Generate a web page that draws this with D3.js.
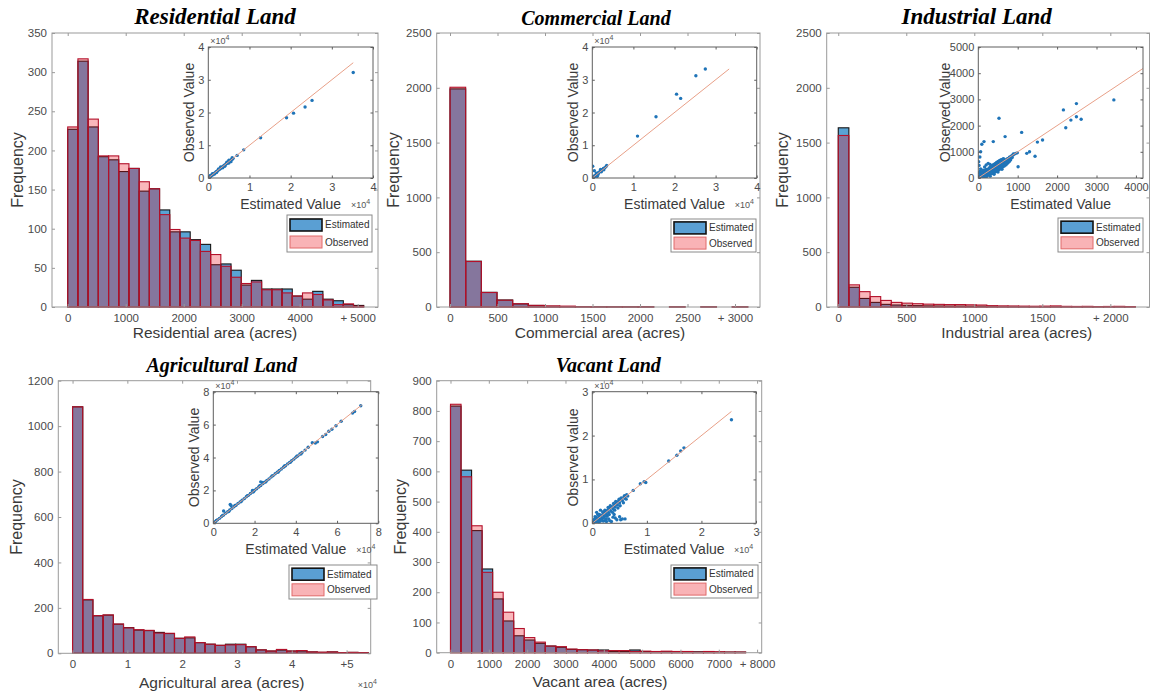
<!DOCTYPE html>
<html>
<head>
<meta charset="utf-8">
<script src="https://cdn.jsdelivr.net/npm/d3@7"></script>
<style>
body{margin:0;background:#fff}
svg text{font-family:"Liberation Sans",Arial,sans-serif}
.title{font-family:"Liberation Serif","Times New Roman",serif;font-weight:bold;font-style:italic;fill:#000}
</style>
</head>
<body>
<svg id="fig" width="1151" height="698"></svg>
<script>
// ---------- histogram data (frequency per bin) ----------
const resBin = 176;   // acres per bin
const resEst = [227,314,230,192,188,173,177,148,151,124,96,96,86,80,54,55,47,28,34,23,23,23,14,10,20,10,8,3,2];
const resObs = [230,317,240,193,193,183,177,160,151,118,99,88,85,71,67,52,38,30,32,22,22,18,14,18,16,9,3,4,1];

const comBin = 165;
const comEst = [1990,418,134,64,28,14,6,3,2,1,1,1,1,0,1,0,1,0,1];
const comObs = [2005,415,132,62,30,15,10,8,2,1,1,1,1,0,1,0,1,0,1];

const indBin = 78;
const indEst = [1635,180,78,42,24,18,15,12,10,9,8,8,7,7,6,5,5,4,4,3,4,3,3,3,2,3,2,2];
const indObs = [1565,202,140,95,60,42,35,30,26,24,22,22,20,18,12,10,9,8,7,8,10,6,5,6,4,5,6,4];

const agrBin = 1860;
const agrEst = [1085,235,165,168,128,113,102,100,92,87,66,68,47,40,35,40,40,29,15,10,14,10,10,6,4,6,3,4,3];
const agrObs = [1085,237,166,169,129,112,104,101,89,88,66,72,47,40,35,37,38,29,15,10,17,10,12,6,5,6,3,4,3];

const vacBin = 275;
const vacEst = [816,604,404,277,178,105,56,42,31,22,18,11,10,9,9,4,4,9,4,3,3,2,2,3,2,2,2,2];
const vacObs = [822,582,420,266,200,134,80,50,35,22,20,12,10,9,6,7,7,4,5,4,5,4,4,2,4,3,2,2];

// ---------- tick labels ----------
const resXTicks = [0,1000,2000,3000,4000,5000];
const resXLabels = ["0","1000","2000","3000","4000","+ 5000"];
const resYTicks = [0,50,100,150,200,250,300,350];
const comXTicks = [0,500,1000,1500,2000,2500,3000];
const comXLabels = ["0","500","1000","1500","2000","2500","+ 3000"];
const comYTicks = [0,500,1000,1500,2000,2500];
const indXTicks = [0,500,1000,1500,2000];
const indXLabels = ["0","500","1000","1500","+ 2000"];
const indYTicks = [0,500,1000,1500,2000,2500];
const agrXTicks = [0,10000,20000,30000,40000,50000];
const agrXLabels = ["0","1","2","3","4","+5"];
const agrYTicks = [0,200,400,600,800,1000,1200];
const vacXTicks = [0,1000,2000,3000,4000,5000,6000,7000,8000];
const vacXLabels = ["0","1000","2000","3000","4000","5000","6000","7000","+ 8000"];
const vacYTicks = [0,100,200,300,400,500,600,700,800,900];

// ---------- inset scatter: [estimated, observed] ----------
const resPts = [[0.01,0.01],[0.03,0.03],[0.05,0.04],[0.07,0.07],[0.09,0.09],[0.11,0.1],[0.13,0.13],[0.15,0.15],
  [0.17,0.16],[0.19,0.19],[0.21,0.21],[0.23,0.22],[0.25,0.25],[0.27,0.27],[0.29,0.28],[0.31,0.31],[0.33,0.33],
  [0.35,0.34],[0.37,0.37],[0.39,0.39],[0.41,0.4],[0.43,0.43],[0.45,0.45],[0.47,0.46],[0.49,0.49],[0.51,0.51],
  [0.53,0.52],[0.55,0.55],[0.57,0.57],[0.59,0.58],[0.6,0.6],[0.1,0.13],[0.2,0.17],[0.3,0.34],[0.4,0.36],
  [0.5,0.54],[0.55,0.5],[0.05,0.08],[0.15,0.12],[0.25,0.28],[0.35,0.31],[0.45,0.48],[0.5,0.46],[0.58,0.62],
  [0.7,0.69],[0.86,0.86],[1.27,1.23],[1.9,1.84],[2.07,1.98],[2.35,2.17],[2.52,2.37],[3.52,3.22]];
const comPts = [[0.01,0.01],[0.03,0.03],[0.05,0.06],[0.07,0.07],[0.09,0.1],[0.11,0.12],[0.13,0.14],[0.15,0.16],
  [0.17,0.18],[0.19,0.2],[0.21,0.22],[0.23,0.24],[0.25,0.26],[0.27,0.29],[0.3,0.31],[0.33,0.34],[0.35,0.38],
  [0.06,0.03],[0.14,0.11],[0.22,0.19],[0.28,0.25],[0.1,0.15],[0.2,0.26],
  [0.01,0.36],[0.05,0.22],[0.12,0.05],[1.1,1.28],[1.55,1.87],[2.05,2.56],[2.15,2.43],[2.52,3.12],[2.75,3.33]];
const indPts = [[5,5],[15,25],[25,10],[35,40],[45,20],[55,60],[65,35],[75,80],[85,50],[95,100],[105,70],[115,120],
  [125,90],[135,140],[145,110],[155,165],[165,125],[175,185],[185,140],[195,205],[210,160],[225,230],[240,180],
  [255,260],[270,205],[285,290],[300,230],[315,320],[330,260],[345,350],[360,290],[375,380],[390,320],[405,410],
  [420,350],[435,440],[450,380],[465,470],[480,410],[495,500],[510,440],[530,520],[550,470],[570,560],[590,510],
  [610,600],[630,560],[650,640],[670,610],[690,690],[710,660],[730,730],[760,750],[790,790],[820,810],[850,850],
  [880,880],[910,910],[950,940],[990,960],
  [20,60],[40,90],[60,120],[30,200],[50,260],[80,160],[100,200],[120,180],[140,220],[160,260],[180,300],
  [200,330],[220,280],[240,320],[260,350],[280,380],[300,400],[320,430],[340,460],[360,480],[380,500],[400,520],
  [420,540],[440,560],[460,580],[480,600],[500,620],[520,640],[540,660],[560,680],[580,690],[600,700],[620,720],
  [640,740],[60,15],[120,40],[160,60],[220,90],[260,120],[320,150],[360,180],[420,220],[460,260],[500,300],
  [540,330],[580,380],[620,420],[660,460],[700,500],[740,560],[780,620],[820,700],[860,780],[140,70],[180,90],
  [240,140],[280,160],[340,230],[380,250],[440,280],[480,330],[520,360],[560,420],[600,460],[640,520],[680,580],
  [720,620],[760,680],[800,740],[840,800],[100,40],[200,110],[300,180],[400,260],[500,350],[600,420],[700,520],
  [800,660],
  [40,150],[80,230],[120,300],[60,350],[160,420],[200,500],[250,560],[300,520],[100,10],[200,30],[300,70],
  [400,140],[500,230],[600,330],[450,300],[350,190],[550,380],[650,480],[700,560],[20,480],[10,620],
  [60,1000],[145,1390],[90,1290],[40,800],[380,1390],[525,2280],[680,1580],[890,920],[1100,1740],[1010,430],
  [1230,940],[1300,1000],[1440,830],[1500,1370],[1630,1450],[2160,2600],[2220,1920],[2350,2210],[2490,2840],
  [2490,2335],[2610,2240],[3440,2980]];
const agrPts = [[0.02,0.02],[0.1,0.1],[0.2,0.21],[0.3,0.3],[0.4,0.41],[0.5,0.5],[0.6,0.61],[0.7,0.7],[0.8,0.81],
  [0.9,0.9],[1.0,1.01],[1.1,1.1],[1.2,1.21],[1.3,1.3],[1.4,1.41],[1.5,1.5],[1.6,1.61],[1.7,1.7],[1.8,1.81],
  [1.9,1.9],[2.0,2.01],[2.1,2.1],[2.2,2.21],[2.3,2.3],[2.4,2.41],[2.5,2.5],[2.6,2.61],[2.7,2.7],[2.8,2.81],
  [2.9,2.9],[3.0,3.01],[3.1,3.1],[3.2,3.21],[3.3,3.3],[3.4,3.41],[3.5,3.5],[3.6,3.61],[3.7,3.7],[3.8,3.81],
  [3.9,3.9],[4.0,4.01],[4.1,4.1],[4.2,4.21],[4.3,4.3],
  [0.15,0.18],[0.45,0.48],[0.75,0.72],[1.05,1.08],[1.35,1.32],[1.65,1.68],[1.95,1.92],[2.25,2.28],[2.55,2.52],
  [2.85,2.88],[3.15,3.12],[3.45,3.48],[3.75,3.72],[4.05,4.08],[4.25,4.22],
  [0.5,0.75],[0.82,1.15],[0.86,1.08],[2.3,2.52],[2.4,2.48],[1.9,2.0],
  [4.45,4.45],[4.6,4.62],[4.8,4.9],[4.95,4.88],[5.05,4.95],[5.3,5.28],[5.45,5.4],[5.6,5.6],[5.75,5.72],
  [5.95,5.93],[6.2,6.2],[6.75,6.7],[6.85,6.8],[7.15,7.15]];
const vacPts = [[0.02,0.02],[0.04,0.06],[0.06,0.03],[0.08,0.1],[0.1,0.06],[0.12,0.14],[0.14,0.09],[0.16,0.18],
  [0.18,0.12],[0.2,0.22],[0.22,0.16],[0.24,0.26],[0.26,0.2],[0.28,0.3],[0.3,0.24],[0.32,0.34],[0.34,0.28],
  [0.36,0.38],[0.38,0.33],[0.4,0.42],[0.42,0.37],[0.44,0.46],[0.46,0.42],[0.48,0.5],[0.5,0.47],[0.52,0.55],
  [0.55,0.52],[0.58,0.6],[0.6,0.57],[0.63,0.65],
  [0.03,0.08],[0.07,0.14],[0.11,0.04],[0.13,0.2],[0.17,0.1],[0.19,0.26],[0.21,0.13],[0.23,0.3],[0.27,0.16],
  [0.29,0.36],[0.31,0.2],[0.33,0.4],[0.37,0.25],[0.39,0.45],[0.41,0.3],[0.43,0.5],[0.47,0.35],[0.49,0.55],
  [0.51,0.4],[0.53,0.58],[0.57,0.47],[0.59,0.63],[0.62,0.55],[0.65,0.62],[0.12,0.02],[0.22,0.06],[0.32,0.06],
  [0.42,0.12],[0.52,0.08],[0.6,0.1],[0.26,0.04],[0.38,0.14],
  [0.05,0.15],[0.1,0.2],[0.08,0.25],[0.15,0.3],[0.2,0.05],[0.3,0.1],[0.35,0.04],[0.45,0.08],[0.5,0.15],
  [0.55,0.1],[0.25,0.1],[0.4,0.2],[0.15,0.05],[0.05,0.1],
  [0.75,0.75],[0.88,0.9],[0.95,0.95],[0.98,0.93],[1.4,1.42],[1.55,1.55],[1.62,1.65],[1.68,1.72],[2.55,2.36]];

const unitTicks4 = [0,1,2,3,4];
const unitTicks3 = [0,1,2,3];
const agrInsetTicks = [0,2,4,6,8];
const indInsetX = [0,1000,2000,3000,4000];
const indInsetY = [0,1000,2000,3000,4000,5000];

// ---------- layout (pixels) ----------
const layout = [
  {box:[52,33,378,307], xdom:[-271,5350], title:[215,24,23], ylab:17, xlab:[215,338], inset:[208.3,47,373,178], legend:[287,215,85,37]},
  {box:[436.7,33,760,307], xdom:[-140,3263], title:[596,25,20], ylab:393, xlab:[600,338], inset:[592.3,47,756.7,178], legend:[671,219,85,33]},
  {box:[826.7,33,1149.5,307], xdom:[-85,2288], title:[976.7,24,23], ylab:782, xlab:[1016.7,338], inset:[978.3,47,1143,178], legend:[1058,218,85,34]},
  {box:[58.3,380.7,370.7,653.3], xdom:[-2600,54400], title:[221.7,372,20], ylab:16, xlab:[221.7,688], inset:[213.3,391.7,378.3,523.3], legend:[289,565,88,34]},
  {box:[436.7,380.7,761.7,652.7], xdom:[-360,8120], title:[608.3,372,20], ylab:400, xlab:[600,687], inset:[592.3,391.7,756,523.3], legend:[671,565,87,33]}
];

const panels = [
  {title:"Residential Land", xName:"Residential area (acres)", bin:resBin, est:resEst, obs:resObs,
   xt:resXTicks, xl:resXLabels, yt:resYTicks, ymax:350,
   ins:{pts:resPts, dom:[0,4], domY:[0,4], xt:unitTicks4, yt:unitTicks4, exp:true, lineMax:3.52, yName:"Observed Value"}},
  {title:"Commercial Land", xName:"Commercial area (acres)", bin:comBin, est:comEst, obs:comObs,
   xt:comXTicks, xl:comXLabels, yt:comYTicks, ymax:2500,
   ins:{pts:comPts, dom:[0,4], domY:[0,4], xt:unitTicks4, yt:unitTicks4, exp:true, lineMax:3.33, yName:"Observed Value"}},
  {title:"Industrial Land", xName:"Industrial area (acres)", bin:indBin, est:indEst, obs:indObs,
   xt:indXTicks, xl:indXLabels, yt:indYTicks, ymax:2500,
   ins:{pts:indPts, dom:[0,4180], domY:[0,5000], xt:indInsetX, yt:indInsetY, exp:false, lineMax:4300, yName:"Observed Value"}},
  {title:"Agricultural Land", xName:"Agricultural area (acres)", bin:agrBin, est:agrEst, obs:agrObs,
   xt:agrXTicks, xl:agrXLabels, yt:agrYTicks, ymax:1200, xExp:true,
   ins:{pts:agrPts, dom:[0,8], domY:[0,8], xt:agrInsetTicks, yt:agrInsetTicks, exp:true, lineMax:7.2, yName:"Observed Value"}},
  {title:"Vacant Land", xName:"Vacant area (acres)", bin:vacBin, est:vacEst, obs:vacObs,
   xt:vacXTicks, xl:vacXLabels, yt:vacYTicks, ymax:900,
   ins:{pts:vacPts, dom:[0,3], domY:[0,3], xt:unitTicks3, yt:unitTicks3, exp:true, lineMax:2.55, yName:"Observed value"}}
];

const estFill = "rgba(0,114,189,0.65)", estEdge = "#141414";
const obsFill = "rgba(235,15,30,0.3)", obsEdge = "#b3102a";
const svg = d3.select("#fig");

// x10^4 style label
var expLabel = function(g, x, y){
  var t = g.append("text").attr("x",x).attr("y",y).attr("font-size",9).attr("fill","#555");
  t.append("tspan").text("\u00d710");
  t.append("tspan").attr("dy",-4).attr("font-size",7).text("4");
};

// MATLAB-like box with inward ticks on all four sides
var frame = function(g, x, y, xt, xfmt, yt, yfmt, o){
  var xr = x.range(), yr = y.range();
  var axes = [
    g.append("g").attr("transform","translate(0,"+yr[0]+")")
      .call(d3.axisBottom(x).tickValues(xt).tickFormat(xfmt).tickSizeInner(-o.tick).tickSizeOuter(0).tickPadding(o.padX)),
    g.append("g").attr("transform","translate(0,"+yr[1]+")")
      .call(d3.axisTop(x).tickValues(xt).tickFormat(function(){return "";}).tickSizeInner(-o.tick).tickSizeOuter(0)),
    g.append("g").attr("transform","translate("+xr[0]+",0)")
      .call(d3.axisLeft(y).tickValues(yt).tickFormat(yfmt).tickSizeInner(-o.tick).tickSizeOuter(0).tickPadding(o.padY)),
    g.append("g").attr("transform","translate("+xr[1]+",0)")
      .call(d3.axisRight(y).tickValues(yt).tickFormat(function(){return "";}).tickSizeInner(-o.tick).tickSizeOuter(0))
  ];
  axes.forEach(function(a){
    a.select(".domain").remove();
    a.attr("font-family",null).attr("font-size",o.font);
    a.selectAll(".tick line").attr("stroke",o.line);
    a.selectAll(".tick text").attr("fill","#4a4a4a");
  });
  g.append("rect").attr("x",xr[0]).attr("y",yr[1])
    .attr("width",xr[1]-xr[0]).attr("height",yr[0]-yr[1])
    .attr("fill","none").attr("stroke",o.line).attr("stroke-width",o.width);
};

var drawHist = function(g, x, y, data, bin, fill, edge){
  g.selectAll(null).data(data).join("rect")
    .attr("x",function(d,i){return x(i*bin);})
    .attr("width",function(d,i){return x((i+1)*bin)-x(i*bin);})
    .attr("y",function(d){return y(d);})
    .attr("height",function(d){return y(0)-y(d);})
    .attr("fill",fill).attr("stroke",edge).attr("stroke-width",1.1);
};

panels.forEach(function(p, k){
  var L = layout[k];
  var g = svg.append("g");
  var b = L.box;
  var x = d3.scaleLinear().domain(L.xdom).range([b[0],b[2]]);
  var y = d3.scaleLinear().domain([0,p.ymax]).range([b[3],b[1]]);

  g.append("rect").attr("x",b[0]).attr("y",b[1]).attr("width",b[2]-b[0]).attr("height",b[3]-b[1]).attr("fill","#fff");
  drawHist(g.append("g"), x, y, p.est, p.bin, estFill, estEdge);
  drawHist(g.append("g"), x, y, p.obs, p.bin, obsFill, obsEdge);
  frame(g, x, y, p.xt, function(d,i){return p.xl[i];}, p.yt, d3.format("d"),
        {tick:3, padX:7, padY:5, font:11.5, line:"#9a9a9a", width:1});

  // titles and axis names
  g.append("text").attr("class","title").attr("x",L.title[0]).attr("y",L.title[1])
    .attr("text-anchor","middle").attr("font-size",L.title[2]).text(p.title);
  g.append("text").attr("x",L.xlab[0]).attr("y",L.xlab[1]).attr("text-anchor","middle")
    .attr("font-size",15.5).attr("fill","#3a3a3a").text(p.xName);
  g.append("text").attr("transform","translate("+L.ylab+","+((b[1]+b[3])/2)+") rotate(-90)")
    .attr("dy","0.35em").attr("text-anchor","middle").attr("font-size",16).attr("fill","#3a3a3a").text("Frequency");
  if(p.xExp) expLabel(g, b[2]-13, L.xlab[1]);

  // inset scatter
  var ib = L.inset, q = p.ins;
  var ix = d3.scaleLinear().domain(q.dom).range([ib[0],ib[2]]);
  var iy = d3.scaleLinear().domain(q.domY).range([ib[3],ib[1]]);
  var clipId = "clip"+k;
  g.append("clipPath").attr("id",clipId).append("rect")
    .attr("x",ib[0]).attr("y",ib[1]).attr("width",ib[2]-ib[0]).attr("height",ib[3]-ib[1]);
  g.append("rect").attr("x",ib[0]).attr("y",ib[1]).attr("width",ib[2]-ib[0]).attr("height",ib[3]-ib[1]).attr("fill","#fff");
  var ig = g.append("g").attr("clip-path","url(#"+clipId+")");
  ig.selectAll(null).data(q.pts).join("circle")
    .attr("cx",function(d){return ix(d[0]);}).attr("cy",function(d){return iy(d[1]);})
    .attr("r",1.7).attr("fill","#1f74b8");
  ig.append("line").attr("x1",ix(0)).attr("y1",iy(0)).attr("x2",ix(q.lineMax)).attr("y2",iy(q.lineMax))
    .attr("stroke","#e8a088").attr("stroke-width",1);
  frame(g, ix, iy, q.xt, d3.format("d"), q.yt, d3.format("d"),
        {tick:2.5, padX:5, padY:4, font:11, line:"#5e5e5e", width:1});
  g.append("text").attr("x",(ib[0]+ib[2])/2).attr("y",ib[3]+31).attr("text-anchor","middle")
    .attr("font-size",14).attr("fill","#3a3a3a").text("Estimated Value");
  var yOff = q.exp ? 19 : 33;
  g.append("text").attr("transform","translate("+(ib[0]-yOff)+","+((ib[1]+ib[3])/2)+") rotate(-90)")
    .attr("dy","0.35em").attr("text-anchor","middle").attr("font-size",14).attr("fill","#3a3a3a").text(q.yName);
  if(q.exp){
    expLabel(g, ib[0]+2, ib[1]-3);
    expLabel(g, ib[2]-22, ib[3]+30);
  }

  // legend
  var lg = L.legend;
  var leg = g.append("g").attr("transform","translate("+lg[0]+","+lg[1]+")");
  leg.append("rect").attr("width",lg[2]).attr("height",lg[3]).attr("fill","#fff").attr("stroke","#8a8a8a").attr("stroke-width",1);
  var rows = [["Estimated","#5a9fd3","#111",1.6],["Observed","#f9b3b6","#e06a6a",1]];
  rows.forEach(function(r,i){
    var cy = lg[3]*(i===0?0.27:0.73);
    leg.append("rect").attr("x",3).attr("y",cy-6).attr("width",32).attr("height",12)
      .attr("fill",r[1]).attr("stroke",r[2]).attr("stroke-width",r[3]);
    leg.append("text").attr("x",38).attr("y",cy).attr("dy","0.35em").attr("font-size",10)
      .attr("fill","#333").text(r[0]);
  });
});
</script>
</body>
</html>
